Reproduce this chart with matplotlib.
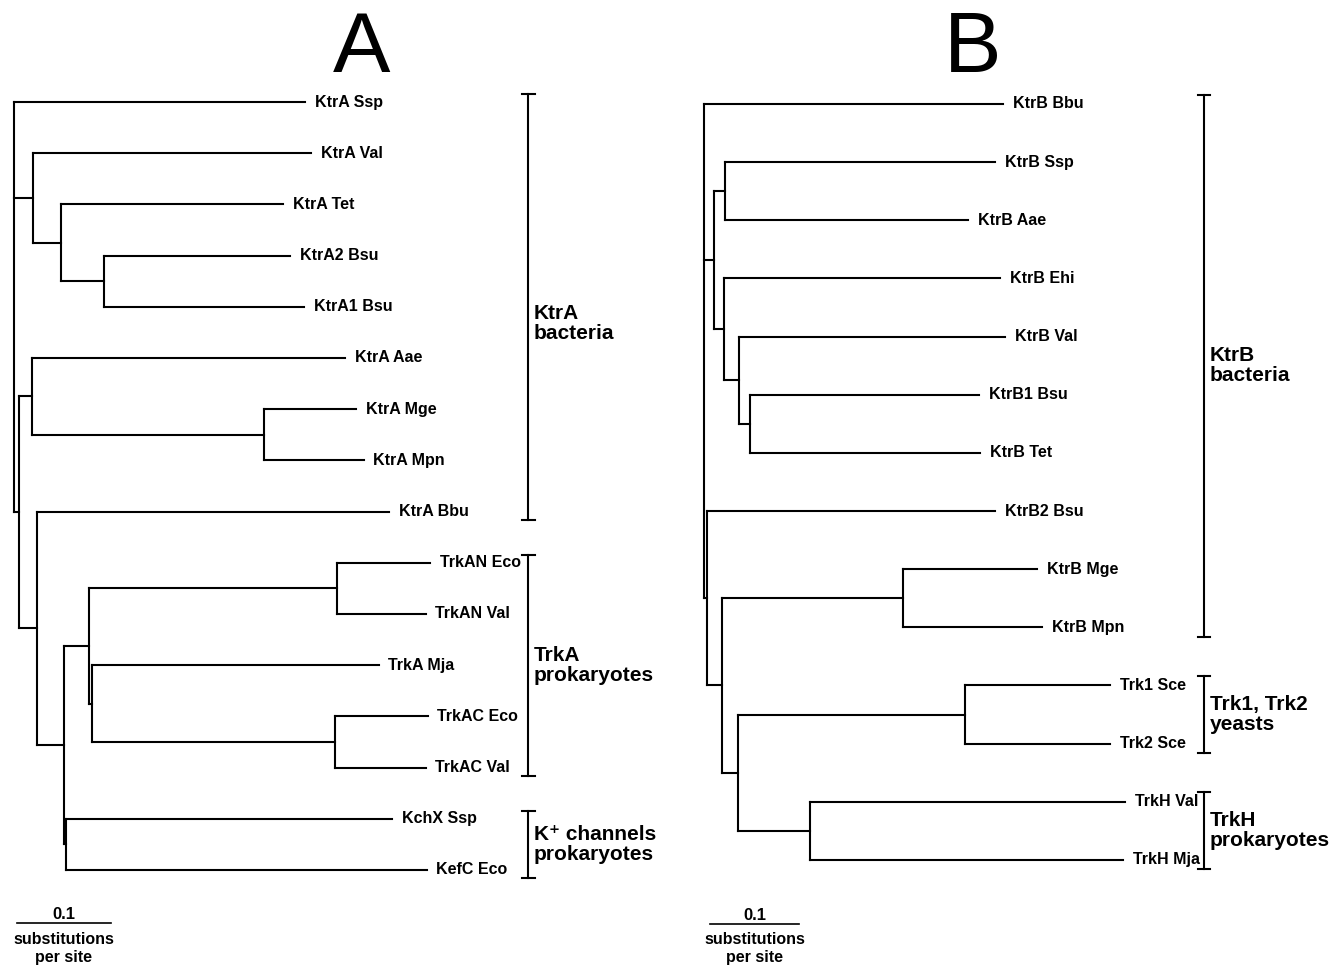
"""
Neighbour-joining trees of KtrA/TrkA (A) and KtrB/Trk/TrkH (B) proteins.
"""

import matplotlib
matplotlib.use("Agg")
import matplotlib.pyplot as plt

plt.rcParams['font.family'] = ['Liberation Sans', 'DejaVu Sans']

# Panel A: leaves top to bottom and their distance from the root (substitutions/site)
a_leaves = ['KtrA Ssp', 'KtrA Val', 'KtrA Tet', 'KtrA2 Bsu', 'KtrA1 Bsu',
            'KtrA Aae', 'KtrA Mge', 'KtrA Mpn', 'KtrA Bbu',
            'TrkAN Eco', 'TrkAN Val', 'TrkA Mja', 'TrkAC Eco', 'TrkAC Val',
            'KchX Ssp', 'KefC Eco']
a_tips = [0.310, 0.316, 0.286, 0.294, 0.309,
          0.352, 0.364, 0.372, 0.399,
          0.443, 0.438, 0.388, 0.440, 0.438,
          0.402, 0.439]
# internal nodes: (name, depth, children), children listed before parents
a_nodes = [
    ('a_bsu', 0.096, ['KtrA2 Bsu', 'KtrA1 Bsu']),
    ('a_tet', 0.050, ['KtrA Tet', 'a_bsu']),
    ('a_val', 0.020, ['KtrA Val', 'a_tet']),
    ('a_myc', 0.266, ['KtrA Mge', 'KtrA Mpn']),
    ('a_aae', 0.019, ['KtrA Aae', 'a_myc']),
    ('a_trkan', 0.344, ['TrkAN Eco', 'TrkAN Val']),
    ('a_trkac', 0.341, ['TrkAC Eco', 'TrkAC Val']),
    ('a_mja', 0.083, ['TrkA Mja', 'a_trkac']),
    ('a_trka', 0.080, ['a_trkan', 'a_mja']),
    ('a_kch', 0.0555, ['KchX Ssp', 'KefC Eco']),
    ('a_low', 0.053, ['a_trka', 'a_kch']),
    ('a_bbu', 0.0245, ['KtrA Bbu', 'a_low']),
    ('a_mid', 0.005, ['a_aae', 'a_bbu']),
    ('a_root', 0.0, ['KtrA Ssp', 'a_val', 'a_mid']),
]
# groups: (first leaf, last leaf, label)
a_groups = [('KtrA Ssp', 'KtrA Bbu', 'KtrA\nbacteria'),
            ('TrkAN Eco', 'TrkAC Val', 'TrkA\nprokaryotes'),
            ('KchX Ssp', 'KefC Eco', 'K\u207a channels\nprokaryotes')]

# Panel B
b_leaves = ['KtrB Bbu', 'KtrB Ssp', 'KtrB Aae', 'KtrB Ehi', 'KtrB Val',
            'KtrB1 Bsu', 'KtrB Tet', 'KtrB2 Bsu', 'KtrB Mge', 'KtrB Mpn',
            'Trk1 Sce', 'Trk2 Sce', 'TrkH Val', 'TrkH Mja']
b_tips = [0.336, 0.327, 0.297, 0.333, 0.338,
          0.309, 0.310, 0.327, 0.374, 0.380,
          0.456, 0.456, 0.473, 0.471]
b_nodes = [
    ('b_ssp', 0.024, ['KtrB Ssp', 'KtrB Aae']),
    ('b_bsu1', 0.052, ['KtrB1 Bsu', 'KtrB Tet']),
    ('b_val', 0.039, ['KtrB Val', 'b_bsu1']),
    ('b_ehi', 0.022, ['KtrB Ehi', 'b_val']),
    ('b_up', 0.011, ['b_ssp', 'b_ehi']),
    ('b_myc', 0.224, ['KtrB Mge', 'KtrB Mpn']),
    ('b_trk', 0.293, ['Trk1 Sce', 'Trk2 Sce']),
    ('b_trkh', 0.119, ['TrkH Val', 'TrkH Mja']),
    ('b_euk', 0.038, ['b_trk', 'b_trkh']),
    ('b_low', 0.020, ['b_myc', 'b_euk']),
    ('b_bsu2', 0.0034, ['KtrB2 Bsu', 'b_low']),
    ('b_root', 0.0, ['KtrB Bbu', 'b_up', 'b_bsu2']),
]
b_groups = [('KtrB Bbu', 'KtrB Mpn', 'KtrB\nbacteria'),
            ('Trk1 Sce', 'Trk2 Sce', 'Trk1, Trk2\nyeasts'),
            ('TrkH Val', 'TrkH Mja', 'TrkH\nprokaryotes')]

scale_len = 0.1
LW = 1.5
# the KtrA group label sits a bit below the middle of its bracket
label_shift = {'KtrA\nbacteria': 0.33}


def draw_tree(ax, leaves, tips, nodes, groups, bracket_x, bar_x, bar_y):
    ypos = {n: i for i, n in enumerate(leaves)}
    xpos = dict(zip(leaves, tips))
    for name, depth, kids in nodes:
        ys = [ypos[k] for k in kids]
        ypos[name] = (min(ys) + max(ys)) / 2
        xpos[name] = depth
        ax.plot([depth, depth], [min(ys), max(ys)], color='black', lw=LW,
                solid_capstyle='projecting')
        for k in kids:
            ax.plot([depth, xpos[k]], [ypos[k], ypos[k]], color='black', lw=LW,
                    solid_capstyle='projecting')
    for n, t in zip(leaves, tips):
        ax.annotate(n, (t, ypos[n]), xytext=(7, 0), textcoords='offset points',
                    va='center', ha='left', fontsize=11.5, fontweight='bold')
    # group brackets
    pad = 0.16
    for first, last, label in groups:
        y0, y1 = ypos[first] - pad, ypos[last] + pad
        ax.plot([bracket_x, bracket_x], [y0, y1], color='black', lw=LW)
        for y in (y0, y1):
            ax.plot([bracket_x - 0.007, bracket_x + 0.007], [y, y],
                    color='black', lw=LW)
        ymid = (y0 + y1) / 2 + label_shift.get(label, 0)
        ax.annotate(label, (bracket_x, ymid), xytext=(4, 0),
                    textcoords='offset points', va='center', ha='left',
                    fontsize=15, fontweight='bold', linespacing=1.05)
    # scale bar
    ax.plot([bar_x, bar_x + scale_len], [bar_y, bar_y], color='black', lw=1.2)
    ax.annotate(str(scale_len), (bar_x + scale_len / 2, bar_y), xytext=(0, 1),
                textcoords='offset points', ha='center', va='bottom',
                fontsize=12, fontweight='bold')
    ax.annotate('substitutions\nper site', (bar_x + scale_len / 2, bar_y),
                xytext=(0, -6), textcoords='offset points', ha='center',
                va='top', fontsize=11.5, fontweight='bold', linespacing=1.25)


fig = plt.figure(figsize=(13.33, 9.66), dpi=100)

ax_a = fig.add_axes([0, 0, 1, 1])
ax_a.set_xlim(-14 / 940, 1319 / 940)
ax_a.set_ylim((966 - 102) / 51.2, -102 / 51.2)
ax_a.axis('off')
draw_tree(ax_a, a_leaves, a_tips, a_nodes, a_groups,
          bracket_x=0.547, bar_x=0.003, bar_y=16.04)

ax_b = fig.add_axes([0, 0, 1, 1])
ax_b.patch.set_visible(False)
ax_b.set_xlim(-704 / 890, 629 / 890)
ax_b.set_ylim((966 - 104) / 58.15, -104 / 58.15)
ax_b.axis('off')
draw_tree(ax_b, b_leaves, b_tips, b_nodes, b_groups,
          bracket_x=0.562, bar_x=0.007, bar_y=14.10)

fig.text(362 / 1333, 1 - 50 / 966, 'A', fontsize=62, ha='center', va='center')
fig.text(973 / 1333, 1 - 50 / 966, 'B', fontsize=62, ha='center', va='center')

plt.savefig('out.png', dpi=100)
